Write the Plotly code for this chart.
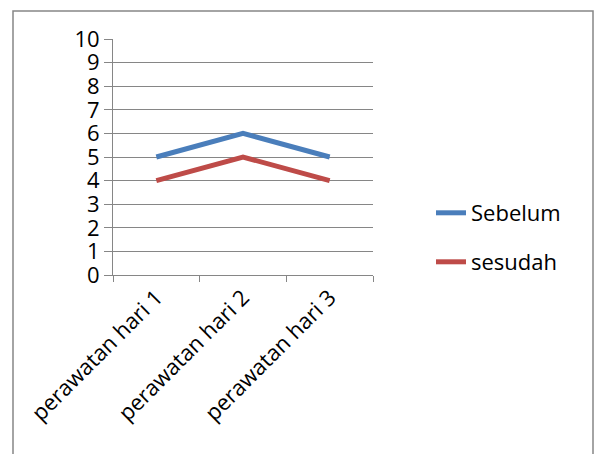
import plotly.graph_objects as go

categories = ["perawatan hari 1", "perawatan hari 2", "perawatan hari 3"]
sebelum = [5, 6, 5]
sesudah = [4, 5, 4]
series_names = ["Sebelum", "sesudah"]
colors = ["#4A7EBB", "#BE4B48"]

W, H = 595, 454
L, R, T, B = 113, 373, 39, 275
pw, ph = R - L, B - T

def px_x(p):
    return (p - L) / pw

def px_y(p):
    return (B - p) / ph

FONT = "Open Sans"

fig = go.Figure()
fig.add_trace(go.Scatter(x=categories, y=sebelum, mode="lines", name=series_names[0],
                         line=dict(color=colors[0], width=5), legend="legend", showlegend=True))
fig.add_trace(go.Scatter(x=categories, y=sesudah, mode="lines", name=series_names[1],
                         line=dict(color=colors[1], width=5), legend="legend2", showlegend=True))

legend_common = dict(font=dict(family=FONT, size=22, color="#000"), bgcolor="rgba(0,0,0,0)",
                     xanchor="left", yanchor="middle", itemwidth=30, tracegroupgap=0)

fig.update_layout(
    width=W, height=H, showlegend=True,
    margin=dict(l=L, r=W - R, t=T, b=H - B, pad=0, autoexpand=False),
    paper_bgcolor="white", plot_bgcolor="white",
    font=dict(family=FONT, size=21, color="#000"),
    xaxis=dict(type="category", showgrid=False, showline=True, linecolor="#868686", linewidth=1,
               ticks="outside", ticklen=6, tickcolor="#868686", tickson="boundaries",
               tickangle=-45, tickfont=dict(family=FONT, size=22, color="#000"),
               range=[-0.5, 2.5], automargin=False),
    yaxis=dict(range=[0, 10], dtick=1, showgrid=True, gridcolor="#868686", gridwidth=1,
               showline=True, linecolor="#868686", linewidth=1, ticks="outside", ticklen=8,
               tickcolor="#868686", zeroline=False, automargin=False,
               tickfont=dict(family=FONT, size=22, color="#000")),
    legend=dict(x=px_x(431), y=px_y(213), **legend_common),
    legend2=dict(x=px_x(431), y=px_y(262), **legend_common),
    shapes=[dict(type="rect", xref="paper", yref="paper",
                 x0=px_x(13), x1=px_x(593), y0=px_y(470), y1=px_y(11),
                 line=dict(color="#868686", width=1.5), fillcolor="rgba(0,0,0,0)", layer="below")],
)

fig.write_html("out.html", config={"displayModeBar": False},
               post_script="document.body.style.margin='0';document.body.style.padding='0';")
